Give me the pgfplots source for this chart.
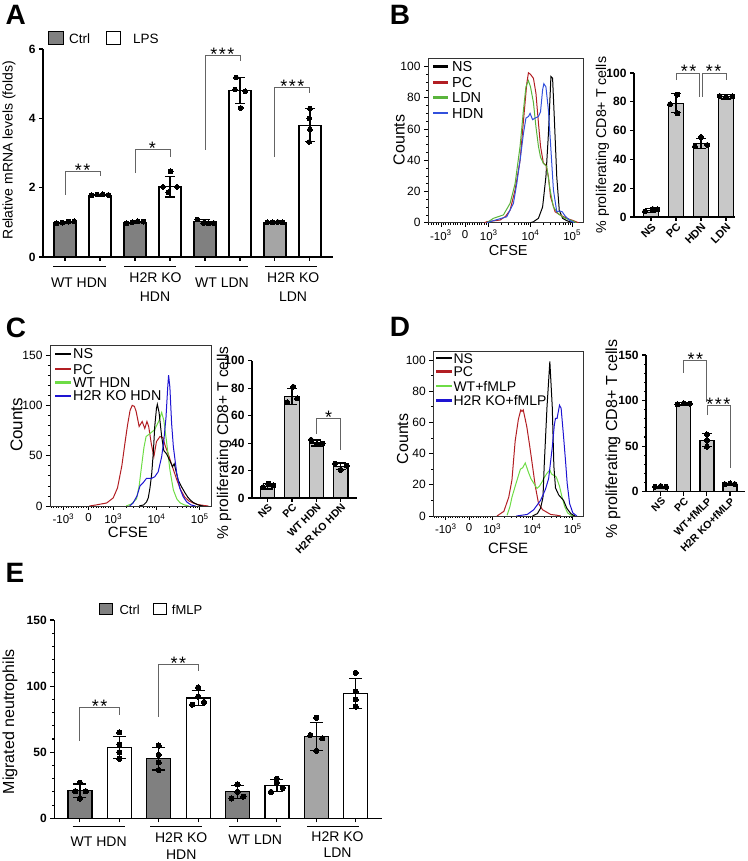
\documentclass[border=0pt]{standalone}
\usepackage{pgfplots}
\pgfplotsset{compat=1.18}
\usepackage{fontspec}
\setmainfont{Liberation Sans}
\definecolor{ctrlgray}{RGB}{128,128,128}
\definecolor{ctrlgrayb}{RGB}{165,165,165}
\definecolor{bargray}{RGB}{200,200,200}
\definecolor{hred}{RGB}{178,30,35}
\definecolor{hgreenB}{RGB}{90,180,60}
\definecolor{hblueB}{RGB}{50,80,220}
\definecolor{hgreen}{RGB}{110,220,70}
\definecolor{hblue}{RGB}{30,20,210}
\definecolor{brk}{RGB}{100,100,100}
\newcommand{\fs}[1]{\fontsize{#1}{#1}\selectfont}
\pgfplotsset{
  every axis/.append style={/pgf/number format/assume math mode=true},
  barax/.style={scale only axis, anchor=south west, axis x line*=bottom, axis y line*=left,
    axis line style={line width=1.2pt,-}, tick align=outside, major tick length=4pt, minor tick length=2pt,
    tick style={line width=1.1pt,black}, ymin=0, clip=false,
    yticklabel style={font=\bfseries\fs{12}}},
  hist/.style={scale only axis, anchor=south west, xmin=1.54, xmax=5.26, ymin=0,
    axis line style={line width=0.8pt,black!80}, tick align=outside, tick pos=left,
    xtick={1.85,2.43,3,4,5},
    xticklabels={-10\textsuperscript{3},0,10\textsuperscript{3},10\textsuperscript{4},10\textsuperscript{5}},
    minor xtick={1.56,1.618,1.676,1.734,1.792,1.908,1.966,2.024,2.082,2.14,2.198,2.256,2.314,2.372,2.487,2.544,2.601,2.658,2.715,2.772,2.829,2.886,2.943,3.301,3.477,3.602,3.699,3.778,3.845,3.903,3.954,4.301,4.477,4.602,4.699,4.778,4.845,4.903,4.954},
    major tick length=4pt, minor tick length=2pt, tick style={black,line width=0.7pt},
    xticklabel style={font=\fs{11.5}}, yticklabel style={font=\fs{12}}},
  errb/.style={/pgfplots/error bars/y dir=both, /pgfplots/error bars/y explicit,
    /pgfplots/error bars/error bar style={line width=1.2pt,black},
    /pgfplots/error bars/error mark options={rotate=90,mark size=#1,line width=1.2pt,black}},
  barsty/.style={ybar, bar shift=0pt, draw=black, line width=1.2pt},
  dots/.style={only marks, mark=*, mark size=#1, black, mark options={fill=black, line width=0pt}},
  dots/.default=2.4pt,
  hl/.style={line width=1pt, mark=none},
}
\begin{document}
\begin{tikzpicture}
\useasboundingbox (0,0) rectangle (747pt,861pt);

% ================= A =================
\begin{axis}[barax, at={(43pt,604pt)}, width=290pt, height=208pt, xmin=-0.63, xmax=7.66, ymax=6,
  ytick={0,2,4,6}, xtick={0,1,2,3,4,5,6,7}, xticklabels={,,,,,,,}]
\addplot[barsty, bar width=22pt, fill=ctrlgray, errb=5pt] coordinates {(0,1.0) +- (0,0.03) (2,1.0) +- (0,0.04) (4,1.02) +- (0,0.06)};
\addplot[barsty, bar width=22pt, fill=ctrlgrayb, errb=5pt] coordinates {(6,1.0) +- (0,0.02)};
\addplot[barsty, bar width=22pt, fill=white, errb=5pt] coordinates {(1,1.78) +- (0,0.03) (3,2.03) +- (0,0.3) (5,4.8) +- (0,0.38) (7,3.8) +- (0,0.48)};
\addplot[dots] coordinates {(-0.24,0.97) (-0.08,0.99) (0.1,1.02) (0.26,1.03)
  (0.76,1.78) (0.92,1.80) (1.08,1.81) (1.24,1.79)
  (1.76,0.97) (1.92,1.0) (2.08,1.03) (2.24,1.02)
  (3.02,2.47) (2.8,2.02) (3.2,2.02) (2.95,1.87)
  (3.78,1.08) (3.95,0.98) (4.1,0.97) (4.25,0.98)
  (4.89,5.18) (4.86,4.83) (5.15,4.78) (5.02,4.3)
  (5.78,1.0) (5.93,1.0) (6.08,1.01) (6.22,1.0)
  (7.0,4.28) (6.98,4.0) (7.0,3.68) (6.98,3.32)};
\draw[brk, line width=0.9pt] (axis cs:0,1.79) -- (axis cs:0,2.48) -- (axis cs:1,2.48) -- (axis cs:1,2.34);
\node[anchor=base, yshift=-5pt, font=\fs{18}] at (axis cs:0.5,2.48) {*\kern1.5pt*};
\draw[brk, line width=0.9pt] (axis cs:2,2.42) -- (axis cs:2,3.09) -- (axis cs:3,3.09) -- (axis cs:3,2.88);
\node[anchor=base, yshift=-5pt, font=\fs{18}] at (axis cs:2.5,3.09) {*};
\draw[brk, line width=0.9pt] (axis cs:4,3.09) -- (axis cs:4,5.8) -- (axis cs:5,5.8) -- (axis cs:5,5.65);
\node[anchor=base, yshift=-5pt, font=\fs{18}] at (axis cs:4.5,5.8) {*\kern1.5pt*\kern1.5pt*};
\draw[brk, line width=0.9pt] (axis cs:6,2.88) -- (axis cs:6,4.88) -- (axis cs:7,4.88) -- (axis cs:7,4.73);
\node[anchor=base, yshift=-5pt, font=\fs{18}] at (axis cs:6.5,4.88) {*\kern1.5pt*\kern1.5pt*};
\end{axis}

% ================= B histogram =================
\begin{axis}[hist, at={(428pt,638.3pt)}, width=155pt, height=164.4pt, ymax=105.3,
  ytick={0,20,40,60,80,100}, minor y tick num=3]
\addplot[hl, black] coordinates {(4.0,0) (4.07,0.6) (4.19,2.8) (4.29,10) (4.37,29.5) (4.43,57) (4.49,93.6) (4.53,92.5) (4.57,68) (4.63,29.5) (4.69,8) (4.77,2.8) (4.87,1.3) (4.97,0.4) (5.05,0)};
\addplot[hl, hred] coordinates {(2.9,0) (2.95,0.6) (3.27,1.7) (3.4,4) (3.51,8) (3.63,21) (3.75,40) (3.84,68) (3.91,89) (3.95,96) (4.0,95) (4.07,92.5) (4.13,83) (4.19,64) (4.24,49) (4.31,38) (4.37,37) (4.43,29.5) (4.48,16.7) (4.59,7) (4.71,5) (4.87,2.8) (5.03,1.3) (5.15,0)};
\addplot[hl, hgreenB] coordinates {(2.95,0) (3.11,2.8) (3.35,5) (3.51,12.4) (3.63,25) (3.75,49) (3.83,72) (3.89,87) (3.95,91) (4.0,87) (4.07,77) (4.13,61.5) (4.19,49) (4.24,42) (4.31,38) (4.39,36) (4.47,21) (4.55,10) (4.67,5.6) (4.83,2.8) (5.0,1.3) (5.1,0)};
\addplot[hl, hblueB] coordinates {(2.95,0) (2.99,0.3) (3.11,1.3) (3.43,3.8) (3.59,12.4) (3.67,25) (3.75,40) (3.83,57) (3.89,67) (3.95,68) (3.99,70) (4.05,66) (4.11,67) (4.19,68) (4.24,71) (4.29,85) (4.32,89) (4.37,87) (4.43,72) (4.48,51) (4.55,21) (4.63,7) (4.7,7.5) (4.76,7) (4.83,4.3) (4.95,1.3) (5.05,0)};
\end{axis}

% ================= B bars =================
\begin{axis}[barax, at={(634pt,644pt)}, width=101pt, height=144pt, xmin=-0.68, xmax=3.36, ymax=100,
  ytick={0,20,40,60,80,100}, xtick={0,1,2,3}, xticklabels={NS,PC,HDN,LDN},
  xticklabel style={rotate=45, anchor=north east, inner sep=1pt, font=\bfseries\fs{11}}]
\addplot[barsty, bar width=15pt, fill=bargray, errb=5pt] coordinates {(0,4.5) +- (0,1.2) (1,79) +- (0,6.5) (2,51) +- (0,3.5) (3,83.5) +- (0,1.5)};
\addplot[dots=2.5pt] coordinates {(-0.24,3.9) (0.07,5.5) (0.25,5.3) (1.05,85) (0.76,78.3) (1.05,72) (2.0,55.5) (1.76,49) (2.25,50) (2.75,84) (3.0,83.3) (3.25,83.8)};
\draw[brk, line width=0.9pt] (axis cs:1,95) -- (axis cs:1,100) -- (axis cs:1.95,100) -- (axis cs:1.95,83.4);
\draw[brk, line width=0.9pt] (axis cs:2.05,83.4) -- (axis cs:2.05,100) -- (axis cs:3,100) -- (axis cs:3,95);
\node[anchor=base, yshift=-5pt, font=\fs{18}] at (axis cs:1.5,100) {*\kern1.5pt*};
\node[anchor=base, yshift=-5pt, font=\fs{18}] at (axis cs:2.5,100) {*\kern1.5pt*};
\end{axis}

% ================= C histogram =================
\begin{axis}[hist, at={(50pt,355pt)}, width=161pt, height=161pt, ymax=160,
  ytick={0,50,100,150}, minor y tick num=4]
\addplot[hl, hred] coordinates {(2.45,0) (2.6,1) (2.85,3) (3.0,8) (3.1,18) (3.2,40) (3.27,62) (3.33,80) (3.39,95) (3.44,100) (3.49,99) (3.53,94) (3.6,79) (3.67,84) (3.73,77) (3.78,84) (3.82,79) (3.88,62) (3.94,49) (4.0,64) (4.08,69) (4.15,68) (4.2,60) (4.27,52) (4.33,44) (4.4,35) (4.47,26) (4.56,16) (4.65,9) (4.75,5) (4.85,3) (4.95,1.5) (5.1,0.5) (5.2,0)};
\addplot[hl, hgreen] coordinates {(3.3,0) (3.42,2) (3.54,7) (3.6,20) (3.66,41) (3.71,58) (3.76,69) (3.85,72) (3.96,76) (4.06,85) (4.12,93) (4.17,85) (4.23,65) (4.31,36) (4.39,16) (4.47,7) (4.55,3) (4.65,1) (4.75,0)};
\addplot[hl, black] coordinates {(3.6,0) (3.7,1) (3.77,4) (3.81,8) (3.85,18) (3.89,32) (3.93,55) (3.96,79) (4.0,97) (4.02,101) (4.06,93) (4.12,69) (4.17,55) (4.23,52) (4.31,45) (4.37,39) (4.41,42) (4.45,35) (4.5,26) (4.58,19) (4.66,13) (4.72,9) (4.78,6) (4.85,3.5) (4.93,1.7) (5.0,0.5) (5.08,0)};
\addplot[hl, hblue] coordinates {(3.38,0) (3.46,3) (3.55,10) (3.62,20) (3.69,23) (3.77,27.5) (3.89,27.5) (3.96,29) (4.04,34) (4.12,49) (4.17,65) (4.22,88) (4.26,118) (4.28,130) (4.31,118) (4.35,82) (4.39,59) (4.47,32) (4.54,17.5) (4.62,9) (4.7,4) (4.8,1) (4.9,0)};
\end{axis}

% ================= C bars =================
\begin{axis}[barax, at={(252pt,363pt)}, width=104.7pt, height=137.3pt, xmin=-0.64, xmax=3.65, ymax=100,
  ytick={0,20,40,60,80,100}, xtick={0,1,2,3}, xticklabels={NS,PC,WT HDN,H2R KO HDN},
  xticklabel style={rotate=45, anchor=north east, inner sep=0.5pt, font=\bfseries\fs{10.5}}]
\addplot[barsty, bar width=14.3pt, fill=bargray, errb=5pt] coordinates {(0,8.5) +- (0,2) (1,74) +- (0,6) (2,40) +- (0,2.2) (3,23) +- (0,2.5)};
\addplot[dots=2.5pt] coordinates {(-0.18,8) (0.03,10.4) (0.23,9.2) (1.05,81) (0.8,69.7) (1.21,72.6) (1.78,42.4) (2.03,39) (2.25,39.5) (2.76,25) (2.99,20.5) (3.24,23.5)};
\draw[brk, line width=0.9pt] (axis cs:2,46.7) -- (axis cs:2,58) -- (axis cs:3,58) -- (axis cs:3,35);
\node[anchor=base, yshift=-5pt, font=\fs{18}] at (axis cs:2.5,58) {*};
\end{axis}

% ================= D histogram =================
\begin{axis}[hist, at={(433.3pt,345pt)}, width=150pt, height=164.3pt, ymax=105.3,
  ytick={0,20,40,60,80,100}, minor y tick num=1]
\addplot[hl, hred] coordinates {(3.12,0) (3.29,3) (3.41,12) (3.49,23) (3.57,48) (3.65,62) (3.71,68) (3.74,67) (3.77,68) (3.82,62) (3.86,57) (3.93,45) (3.99,34) (4.07,19) (4.15,8) (4.25,4) (4.35,2.5) (4.45,1) (4.6,0.5) (4.7,0)};
\addplot[hl, hgreen] coordinates {(3.37,0.5) (3.44,6) (3.49,12) (3.57,19) (3.64,25) (3.70,30) (3.76,31) (3.82,34) (3.86,31) (3.9,28) (3.96,24) (4.03,21) (4.11,17.7) (4.17,19) (4.24,22) (4.3,25) (4.36,27.4) (4.43,29.5) (4.47,27) (4.51,26.3) (4.59,25) (4.67,19) (4.73,12.4) (4.8,6) (4.87,2) (4.95,0.5) (5.05,0)};
\addplot[hl, black] coordinates {(4.0,0) (4.12,1.5) (4.2,5) (4.26,12) (4.29,32) (4.36,70) (4.43,99) (4.49,70) (4.53,32) (4.57,18) (4.65,13.5) (4.77,10) (4.85,5) (4.95,1.5) (5.05,0)};
\addplot[hl, hblue] coordinates {(3.6,0) (3.87,1) (4.03,4) (4.2,10) (4.32,17) (4.4,24) (4.49,44) (4.54,58) (4.57,62.6) (4.61,62.6) (4.67,71) (4.71,69) (4.77,51) (4.82,35) (4.86,21) (4.92,8) (5.0,2) (5.1,0)};
\end{axis}

% ================= D bars =================
\begin{axis}[barax, at={(646pt,369.3pt)}, width=99pt, height=136.7pt, xmin=-0.64, xmax=3.65, ymax=150,
  ytick={0,50,100,150}, minor y tick num=4, xtick={0,1,2,3}, xticklabels={NS,PC,WT+fMLP,H2R KO+fMLP},
  xticklabel style={rotate=45, anchor=north east, inner sep=0.5pt, font=\bfseries\fs{10.5}}]
\addplot[barsty, bar width=14pt, fill=bargray, errb=5pt] coordinates {(0,5) +- (0,1) (1,96) +- (0,1.5) (2,56.5) +- (0,7) (3,8) +- (0,0.7)};
\addplot[dots=2.5pt] coordinates {(-0.25,5.5) (0.0,6.2) (0.23,5.5) (0.72,96) (1.0,97) (1.26,96.5) (2.0,63) (2.0,56.7) (2.0,49.4) (2.77,8.4) (3.0,9.1) (3.21,8.4)};
\draw[brk, line width=0.9pt] (axis cs:1,130.6) -- (axis cs:1,143.8) -- (axis cs:1.97,143.8) -- (axis cs:1.97,98.8);
\node[anchor=base, yshift=-5pt, font=\fs{18}] at (axis cs:1.5,143.8) {*\kern1.5pt*};
\draw[brk, line width=0.9pt] (axis cs:2.03,84) -- (axis cs:2.03,94.4) -- (axis cs:3,94.4) -- (axis cs:3,25.6);
\node[anchor=base, yshift=-5pt, font=\fs{18}] at (axis cs:2.5,94.4) {*\kern1.5pt*\kern1.5pt*};
\end{axis}

% ================= E =================
\begin{axis}[barax, at={(54.3pt,42.7pt)}, width=327.4pt, height=198.3pt, xmin=-0.65, xmax=7.66, ymax=150,
  ytick={0,50,100,150}, minor y tick num=4, xtick={0,1,2,3,4,5,6,7}, xticklabels={,,,,,,,}]
\addplot[barsty, bar width=24pt, fill=ctrlgray, errb=6.5pt] coordinates {(0,21) +- (0,5) (2,45) +- (0,8.5) (4,20) +- (0,5)};
\addplot[barsty, bar width=24pt, fill=ctrlgrayb, errb=6.5pt] coordinates {(6,62) +- (0,10.5)};
\addplot[barsty, bar width=24pt, fill=white, errb=6.5pt] coordinates {(1,53.5) +- (0,8.5) (3,91) +- (0,5.5) (5,25) +- (0,4.5) (7,94.5) +- (0,11.5)};
\addplot[dots=2.6pt] coordinates {(0,27) (-0.12,20.5) (0.15,20.5) (0,15)
  (1,65) (1,56) (1,50) (1,45)
  (2,55) (2,48) (2,42.3) (2,36.5)
  (3.0,99) (2.85,86) (3.15,88) (3.0,92)
  (4,25.7) (4,20) (3.85,15) (4.15,16.4)
  (5,30) (5,27) (4.85,20) (5.15,23)
  (6,76) (5.85,63) (6.15,60.5) (6,51)
  (7,110) (7,96) (7,90) (7,84.5)};
\draw[brk, line width=0.9pt] (axis cs:0,58.5) -- (axis cs:0,83.7) -- (axis cs:1,83.7) -- (axis cs:1,78);
\node[anchor=base, yshift=-5pt, font=\fs{18}] at (axis cs:0.5,83.7) {*\kern1.5pt*};
\draw[brk, line width=0.9pt] (axis cs:2,76.9) -- (axis cs:2,116.5) -- (axis cs:3,116.5) -- (axis cs:3,111.4);
\node[anchor=base, yshift=-5pt, font=\fs{18}] at (axis cs:2.5,116.5) {*\kern1.5pt*};
\end{axis}

% ================= annotations =================
\begin{scope}[x=1pt,y=1pt]
% panel letters
\node[font=\bfseries\fs{28}] at (15.7,846) {A};
\node[font=\bfseries\fs{28}] at (400,846) {B};
\node[font=\bfseries\fs{28}] at (16,532.7) {C};
\node[font=\bfseries\fs{28}] at (400,534.3) {D};
\node[font=\bfseries\fs{28}] at (15,287.7) {E};
% A legend
\draw[fill=ctrlgray, line width=1pt] (48.3,816) rectangle (63.3,829.3);
\node[anchor=west, font=\fs{13.5}, inner sep=0pt] at (69,822.5) {Ctrl};
\draw[fill=white, line width=1pt] (106,816) rectangle (120.7,829.3);
\node[anchor=west, font=\fs{13.5}, inner sep=0pt] at (133,822.5) {LPS};
% A labels
\node[rotate=90, font=\fs{14}] at (9,711) {Relative mRNA levels (folds)};
\foreach \a/\b in {53.3/106, 124/176, 195/248.3, 265/316.7} \draw[line width=1.3pt] (\a,594.3) -- (\b,594.3);
\node[font=\fs{14}] at (79,578.5) {WT HDN};
\node[font=\fs{14}] at (155.5,583.2) {H2R KO};
\node[font=\fs{14}] at (155,564.3) {HDN};
\node[font=\fs{14}] at (222,578.5) {WT LDN};
\node[font=\fs{14}] at (293.3,583.2) {H2R KO};
\node[font=\fs{14}] at (293,564.3) {LDN};
% B labels
\node[rotate=90, font=\fs{16}] at (399,721) {Counts};
\node[font=\fs{14.5}] at (508.3,610.2) {CFSE};
\node[rotate=90, font=\fs{14.2}] at (602.5,716) {\% proliferating CD8+ T cells};
\foreach \y/\c/\t in {794.3/black/NS, 778.3/hred/PC, 763.3/hgreenB/LDN, 747.7/hblueB/HDN} {
  \draw[\c, line width=2.4pt] (433,\y) -- (448,\y);
  \node[anchor=west, font=\fs{14.5}, inner sep=0pt] at (452,\y) {\t};
}
% C labels
\node[rotate=90, font=\fs{17}] at (16.5,436) {Counts};
\node[font=\fs{15}] at (128,329) {CFSE};
\node[rotate=90, font=\fs{15.5}] at (224,418) {\% proliferating CD8+ T cells};
\foreach \y/\c/\t in {507/black/NS, 491.7/hred/PC, 478.3/hgreen/WT HDN, 465/hblue/H2R KO HDN} {
  \draw[\c, line width=2.4pt] (55,\y) -- (71,\y);
  \node[anchor=west, font=\fs{14.3}, inner sep=0pt] at (73,\y) {\t};
}
% D labels
\node[rotate=90, font=\fs{16}] at (402.5,422) {Counts};
\node[font=\fs{15}] at (508,313) {CFSE};
\node[rotate=90, font=\fs{16}] at (613,422) {\% proliferating CD8+ T cells};
\foreach \y/\c/\t in {502.7/black/NS, 489.3/hred/PC, 475/hgreen/WT+fMLP, 460.3/hblue/H2R KO+fMLP} {
  \draw[\c, line width=2.4pt] (436,\y) -- (451.7,\y);
  \node[anchor=west, font=\fs{14}, inner sep=0pt] at (453.3,\y) {\t};
}
% E legend
\draw[fill=ctrlgray, line width=1pt] (99.3,246) rectangle (112.3,257);
\node[anchor=west, font=\fs{13}, inner sep=0pt] at (119.3,251.5) {Ctrl};
\draw[fill=white, line width=1pt] (153.3,246) rectangle (166,257);
\node[anchor=west, font=\fs{13}, inner sep=0pt] at (171.7,251.5) {fMLP};
% E labels
\node[rotate=90, font=\fs{16}] at (10,139.3) {Migrated neutrophils};
\foreach \a/\b in {72.7/125, 150/201.7, 229.3/281, 307.3/359.3} \draw[line width=1.3pt] (\a,34.3) -- (\b,34.3);
\node[font=\fs{14}] at (98.7,19.7) {WT HDN};
\node[font=\fs{14}] at (181.2,23.8) {H2R KO};
\node[font=\fs{14}] at (181.3,6.8) {HDN};
\node[font=\fs{14}] at (255.2,21.5) {WT LDN};
\node[font=\fs{14}] at (337.5,24.8) {H2R KO};
\node[font=\fs{14}] at (337.5,8) {LDN};
\end{scope}
\end{tikzpicture}
\end{document}
